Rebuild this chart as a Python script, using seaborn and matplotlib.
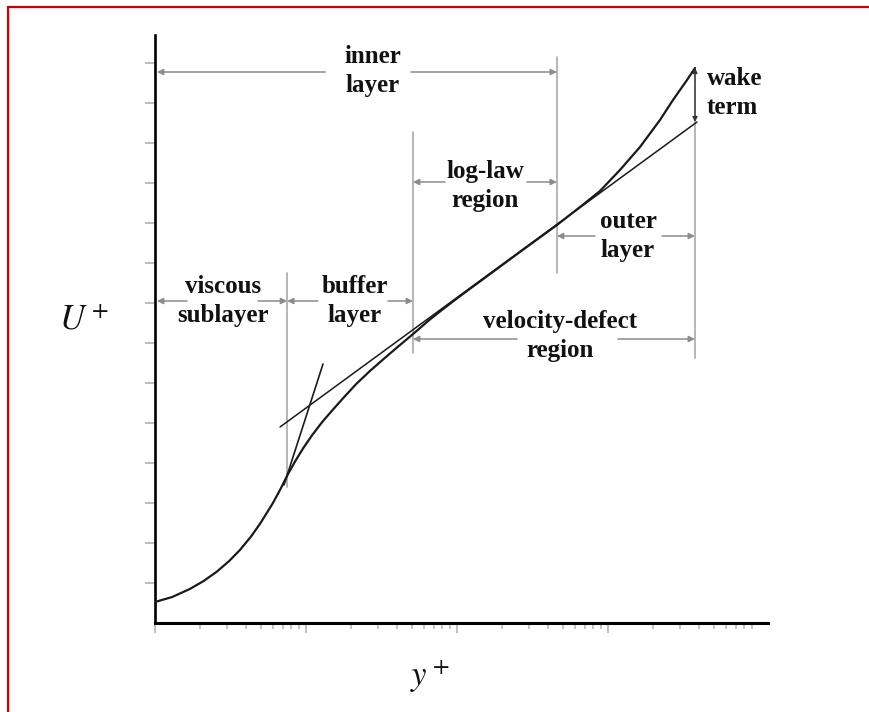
import matplotlib

matplotlib.use("Agg")
import matplotlib.pyplot as plt  # noqa: E402
from matplotlib.lines import Line2D  # noqa: E402
from matplotlib.ticker import FixedLocator, NullFormatter  # noqa: E402
import seaborn as sns  # noqa: E402

# velocity profile (y+ on log axis, U+ linear)
profile_yplus = [1.0, 1.3, 1.7, 2.1, 2.57, 3.1, 3.66, 4.3, 4.96, 6.04, 6.8,
                 7.6, 8.5, 9.6, 11.0, 12.8, 15.0, 17.8, 21.5, 26.5, 33.0,
                 41.0, 51.2, 66.0, 80.0, 105, 261, 459, 653, 885, 1200, 1629,
                 2209, 2694, 3337, 3768]
profile_uplus = [1.05, 1.3, 1.7, 2.1, 2.57, 3.1, 3.66, 4.3, 4.96, 6.0, 6.72,
                 7.45, 8.1, 8.75, 9.4, 10.05, 10.65, 11.28, 11.95, 12.6, 13.23,
                 13.84, 14.45, 15.17, 15.67, 16.35, 18.55, 19.9, 20.8, 21.6,
                 22.65, 23.8, 25.15, 26.15, 27.15, 27.75]

# log-law tangent and viscous tangent (end points)
loglaw_yplus = [6.73, 3883]
loglaw_uplus = [9.8, 25.05]
viscous_yplus = [7.15, 12.96]
viscous_uplus = [6.9, 12.95]

# region boundaries in y+
y_viscous = 7.5
y_buffer = 51.1
y_inner = 459
y_outer = 3768

u_ticks = list(range(2, 29, 2))
decades = [1, 10, 100, 1000]

sns.set_theme(style="white")
plt.rcParams["font.family"] = ["Liberation Serif", "DejaVu Serif"]
plt.rcParams["mathtext.fontset"] = "stix"

W, H = 870, 712
fig = plt.figure(figsize=(W / 100, H / 100), dpi=100)
fig.patch.set_facecolor("white")
ax = fig.add_axes([155 / W, 89 / H, 613 / W, 588 / H])
ax.set_facecolor("white")

ax.set_xscale("log")
ax.set_xlim(1, 10 ** (613 / 151))
ax.set_ylim(0, 29.4)

guide = "#b0b0b0"
arrow_col = "#8c8c8c"
ink = "#1a1a1a"

# vertical region boundaries
for xv, u0, u1 in [(y_viscous, 6.8, 17.5), (y_buffer, 13.5, 24.55),
                   (y_inner, 17.5, 28.3), (y_outer, 13.25, 27.75)]:
    ax.plot([xv, xv], [u0, u1], color=guide, lw=1.3, zorder=1)

sns.lineplot(x=profile_yplus, y=profile_uplus, ax=ax, color=ink, lw=1.6,
             sort=False, estimator=None, zorder=3)
sns.lineplot(x=loglaw_yplus, y=loglaw_uplus, ax=ax, color=ink, lw=1.1,
             sort=False, estimator=None, zorder=3)
sns.lineplot(x=viscous_yplus, y=viscous_uplus, ax=ax, color=ink, lw=1.2,
             sort=False, estimator=None, zorder=3)

aprops = dict(arrowstyle="-|>", color=arrow_col, lw=1.1, shrinkA=0, shrinkB=0,
              mutation_scale=9)


def span(x0, x1, g0, g1, u):
    ax.annotate("", xy=(x0, u), xytext=(g0, u), arrowprops=aprops, zorder=2)
    ax.annotate("", xy=(x1, u), xytext=(g1, u), arrowprops=aprops, zorder=2)


def label(x, u, text):
    ax.text(x, u, text, ha="center", va="center", fontsize=18,
            fontweight="bold", linespacing=1.3, color="#111111", zorder=4)


span(1.03, y_inner, 13.4, 49.6, 27.55)
label(27.8, 27.6, "inner\nlayer")

span(y_buffer, y_inner, 83.3, 291, 22.05)
label(153, 21.85, "log-law\nregion")

span(y_inner, y_outer, 820, 2278, 19.35)
label(1356, 19.35, "outer\nlayer")

span(1.03, y_viscous, 1.63, 4.81, 16.1)
label(2.82, 16.1, "viscous\nsublayer")

span(y_viscous, y_buffer, 12.0, 34.9, 16.1)
label(21.1, 16.1, "buffer\nlayer")

span(y_buffer, y_outer, 250, 1164, 14.2)
label(481, 14.35, "velocity-defect\nregion")

ax.annotate("", xy=(y_outer, 27.75), xytext=(y_outer, 25.05),
            arrowprops=dict(arrowstyle="<|-|>", color="#333333", lw=1.0,
                            shrinkA=0, shrinkB=0, mutation_scale=7), zorder=4)
ax.text(4525, 26.5, "wake\nterm", ha="left", va="center", fontsize=18,
        fontweight="bold", linespacing=1.3, color="#111111")

# axes styling
for side in ("top", "right"):
    ax.spines[side].set_visible(False)
ax.spines["left"].set_color("black")
ax.spines["left"].set_linewidth(1.9)
ax.spines["bottom"].set_color("black")
ax.spines["bottom"].set_linewidth(2.2)

ax.yaxis.set_major_locator(FixedLocator(u_ticks))
ax.xaxis.set_major_locator(FixedLocator(decades))
ax.xaxis.set_minor_locator(FixedLocator([d * k for d in decades for k in range(2, 10)]))
ax.xaxis.set_major_formatter(NullFormatter())
ax.xaxis.set_minor_formatter(NullFormatter())
ax.yaxis.set_major_formatter(NullFormatter())
ax.tick_params(axis="y", which="major", direction="out", length=7, width=1.2,
               color="#b4b4b4", left=True)
ax.tick_params(axis="x", which="major", direction="out", length=7, width=1.2,
               color="#b4b4b4", bottom=True)
ax.tick_params(axis="x", which="minor", direction="out", length=4, width=1.1,
               color="#b4b4b4", bottom=True)
ax.grid(False)

fig.text(84 / W, 1 - 321 / H, r"$U^+$", ha="center", va="center", fontsize=25,
         color="#111111")
fig.text(430 / W, 1 - 676 / H, r"$y^+$", ha="center", va="center", fontsize=25,
         color="#111111")

# red frame of the picture
red = "#cc0000"
fig.add_artist(Line2D([8 / W, 1.0], [1 - 7 / H, 1 - 7 / H], color=red, lw=1.6,
                      transform=fig.transFigure))
fig.add_artist(Line2D([8 / W, 8 / W], [0.0, 1 - 7 / H], color=red, lw=1.6,
                      transform=fig.transFigure))

fig.savefig("out.png", dpi=100)
plt.close(fig)
